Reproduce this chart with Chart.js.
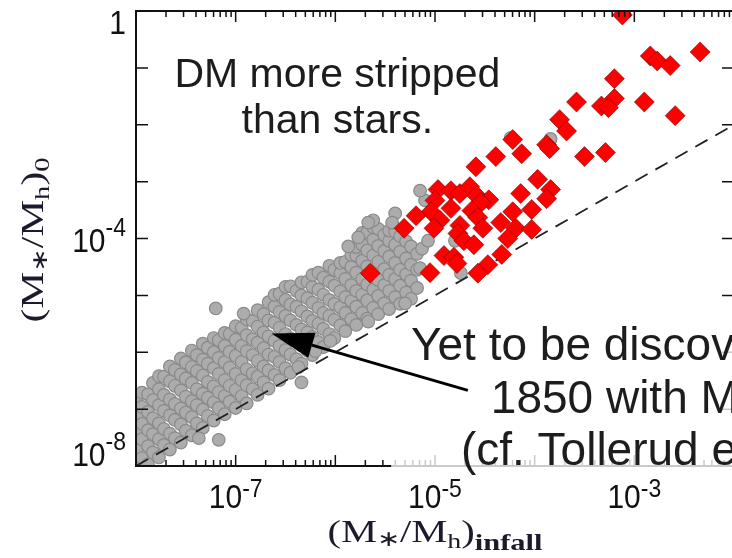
<!DOCTYPE html>
<html>
<head>
    <title>Stellar vs halo stripping</title>
    <script src="https://cdn.jsdelivr.net/npm/chart.js"></script>
    <style>
        html, body { margin: 0; padding: 0; background: #fff; overflow: hidden; }
        canvas { display: block; }
    </style>
</head>
<body>
    <canvas id="stripChart" width="745" height="558"></canvas>

    <script>
        // every value below is log10 of the mass ratio
        const xRange = [-8, -2];
        const yRange = [-8, 0];
        const xTickLabels = [-7, -5, -3];
        const yTickLabels = [0, -4, -8];
        const oneToOne = [-8, -2];

        // observed satellites (red diamonds): [x, y]
        const redLog = [
            [-3.12, -0.07], [-2.34, -0.72], [-2.84, -0.79], [-2.77, -0.88], [-2.64, -0.96],
            [-3.20, -1.19], [-3.58, -1.60], [-3.20, -1.54], [-3.33, -1.67], [-3.26, -1.70],
            [-2.90, -1.60], [-2.59, -1.84], [-3.75, -1.91], [-3.68, -2.11], [-4.22, -2.26],
            [-3.88, -2.35], [-3.85, -2.42], [-4.13, -2.51], [-4.39, -2.56], [-4.59, -2.74],
            [-3.50, -2.56], [-3.29, -2.49], [-3.97, -2.96], [-3.84, -3.14], [-3.88, -3.30],
            [-4.14, -3.21], [-4.97, -3.14], [-4.84, -3.16], [-4.75, -3.21], [-4.65, -3.09],
            [-4.58, -3.25], [-4.46, -3.32], [-5.00, -3.33], [-4.54, -3.37], [-5.04, -3.53],
            [-4.84, -3.47], [-4.63, -3.51], [-4.57, -3.63], [-4.22, -3.53], [-4.03, -3.49],
            [-5.19, -3.60], [-4.95, -3.68], [-5.01, -3.82], [-5.31, -3.82], [-4.75, -3.77],
            [-4.52, -3.82], [-4.34, -3.72], [-4.19, -3.82], [-4.03, -3.84], [-4.77, -3.91],
            [-4.71, -4.04], [-4.61, -4.11], [-4.27, -4.00], [-4.33, -4.28], [-4.91, -4.30],
            [-4.81, -4.33], [-4.78, -4.44], [-4.47, -4.46], [-5.05, -4.60], [-4.57, -4.61],
            [-5.65, -4.61]
        ];

        // yet-to-be-discovered satellites (grey circles): [x, y]
        const grayLog = [
            [-7.99, -8.03], [-7.99, -7.70], [-7.99, -7.43], [-7.99, -7.10], [-7.99, -6.80],
            [-7.94, -7.86], [-7.94, -7.53], [-7.94, -7.26], [-7.94, -6.96], [-7.94, -6.71],
            [-7.88, -7.97], [-7.88, -7.65], [-7.88, -7.37], [-7.88, -7.05], [-7.88, -6.74],
            [-7.83, -7.76], [-7.83, -7.44], [-7.83, -7.16], [-7.83, -6.84], [-7.83, -6.54],
            [-7.77, -7.85], [-7.77, -7.53], [-7.77, -7.25], [-7.77, -6.93], [-7.77, -6.65], [-7.77, -6.42],
            [-7.72, -7.63], [-7.72, -7.35], [-7.72, -7.03], [-7.72, -6.75], [-7.72, -6.43],
            [-7.66, -7.71], [-7.66, -7.43], [-7.66, -7.11], [-7.66, -6.83], [-7.66, -6.51], [-7.66, -6.25],
            [-7.61, -7.51], [-7.61, -7.19], [-7.61, -6.91], [-7.61, -6.59], [-7.61, -6.31],
            [-7.55, -7.59], [-7.55, -7.27], [-7.55, -6.99], [-7.55, -6.67], [-7.55, -6.39], [-7.55, -6.11],
            [-7.50, -7.38], [-7.50, -7.06], [-7.50, -6.78], [-7.50, -6.46], [-7.50, -6.18],
            [-7.44, -7.46], [-7.44, -7.14], [-7.44, -6.86], [-7.44, -6.54], [-7.44, -6.26], [-7.44, -5.97],
            [-7.39, -7.25], [-7.39, -6.93], [-7.39, -6.65], [-7.39, -6.33], [-7.39, -6.05],
            [-7.33, -7.33], [-7.33, -7.01], [-7.33, -6.73], [-7.33, -6.41], [-7.33, -6.13], [-7.33, -5.85],
            [-7.28, -7.12], [-7.28, -6.80], [-7.28, -6.52], [-7.28, -6.20], [-7.28, -5.92],
            [-7.22, -7.20], [-7.22, -6.88], [-7.22, -6.60], [-7.22, -6.28], [-7.22, -6.00], [-7.22, -5.75],
            [-7.17, -6.98], [-7.17, -6.70], [-7.17, -6.38], [-7.17, -6.10], [-7.17, -5.79],
            [-7.11, -7.09], [-7.11, -6.77], [-7.11, -6.49], [-7.11, -6.17], [-7.11, -5.89], [-7.11, -5.66],
            [-7.06, -6.87], [-7.06, -6.59], [-7.06, -6.27], [-7.06, -5.99], [-7.06, -5.68],
            [-7.00, -6.98], [-7.00, -6.66], [-7.00, -6.38], [-7.00, -6.06], [-7.00, -5.78], [-7.00, -5.54],
            [-6.94, -6.77], [-6.94, -6.49], [-6.94, -6.17], [-6.94, -5.89], [-6.94, -5.57],
            [-6.89, -6.90], [-6.89, -6.58], [-6.89, -6.30], [-6.89, -5.98], [-6.89, -5.70], [-6.89, -5.42],
            [-6.83, -6.65], [-6.83, -6.37], [-6.83, -6.05], [-6.83, -5.77], [-6.83, -5.45],
            [-6.78, -6.75], [-6.78, -6.43], [-6.78, -6.15], [-6.78, -5.83], [-6.78, -5.55], [-6.78, -5.26],
            [-6.72, -6.53], [-6.72, -6.25], [-6.72, -5.93], [-6.72, -5.65], [-6.72, -5.33],
            [-6.67, -6.64], [-6.67, -6.32], [-6.67, -6.04], [-6.67, -5.72], [-6.67, -5.44], [-6.67, -5.12],
            [-6.61, -6.40], [-6.61, -6.08], [-6.61, -5.80], [-6.61, -5.48], [-6.61, -5.20], [-6.61, -4.99],
            [-6.56, -6.49], [-6.56, -6.17], [-6.56, -5.89], [-6.56, -5.57], [-6.56, -5.29], [-6.56, -4.97],
            [-6.50, -6.28], [-6.50, -5.96], [-6.50, -5.68], [-6.50, -5.36], [-6.50, -5.08], [-6.50, -4.85],
            [-6.45, -6.36], [-6.45, -6.04], [-6.45, -5.76], [-6.45, -5.44], [-6.45, -5.16], [-6.45, -4.84],
            [-6.39, -6.12], [-6.39, -5.80], [-6.39, -5.52], [-6.39, -5.20], [-6.39, -4.92],
            [-6.34, -6.20], [-6.34, -5.88], [-6.34, -5.60], [-6.34, -5.28], [-6.34, -5.00], [-6.34, -4.77],
            [-6.28, -5.97], [-6.28, -5.65], [-6.28, -5.37], [-6.28, -5.05], [-6.28, -4.76],
            [-6.23, -6.05], [-6.23, -5.73], [-6.23, -5.45], [-6.23, -5.13], [-6.23, -4.85], [-6.23, -4.64],
            [-6.17, -5.82], [-6.17, -5.50], [-6.17, -5.22], [-6.17, -4.90], [-6.17, -4.60],
            [-6.12, -5.91], [-6.12, -5.59], [-6.12, -5.31], [-6.12, -4.99], [-6.12, -4.69],
            [-6.06, -5.68], [-6.06, -5.36], [-6.06, -5.08], [-6.06, -4.76], [-6.06, -4.48],
            [-6.01, -5.75], [-6.01, -5.43], [-6.01, -5.15], [-6.01, -4.83], [-6.01, -4.55],
            [-5.95, -5.53], [-5.95, -5.21], [-5.95, -4.93], [-5.95, -4.61], [-5.95, -4.43],
            [-5.90, -5.63], [-5.90, -5.31], [-5.90, -5.03], [-5.90, -4.71], [-5.90, -4.41],
            [-5.84, -5.42], [-5.84, -5.10], [-5.84, -4.82], [-5.84, -4.50], [-5.84, -4.29],
            [-5.79, -5.52], [-5.79, -5.20], [-5.79, -4.92], [-5.79, -4.60], [-5.79, -4.30], [-5.79, -4.15],
            [-5.73, -5.31], [-5.73, -4.99], [-5.73, -4.71], [-5.73, -4.39], [-5.73, -4.11], [-5.73, -3.90],
            [-5.68, -5.41], [-5.68, -5.09], [-5.68, -4.81], [-5.68, -4.49], [-5.68, -4.21], [-5.68, -3.89],
            [-5.62, -5.22], [-5.62, -4.90], [-5.62, -4.62], [-5.62, -4.30], [-5.62, -4.02], [-5.62, -3.80],
            [-5.57, -5.33], [-5.57, -5.01], [-5.57, -4.73], [-5.57, -4.41], [-5.57, -4.13], [-5.57, -3.83],
            [-5.51, -5.14], [-5.51, -4.82], [-5.51, -4.54], [-5.51, -4.22], [-5.51, -3.94],
            [-5.46, -5.24], [-5.46, -4.92], [-5.46, -4.64], [-5.46, -4.32], [-5.46, -4.04], [-5.46, -3.86],
            [-5.40, -5.03], [-5.40, -4.71], [-5.40, -4.43], [-5.40, -4.11], [-5.40, -3.88],
            [-5.35, -5.15], [-5.35, -4.83], [-5.35, -4.55], [-5.35, -4.23], [-5.35, -3.96],
            [-5.29, -4.95], [-5.29, -4.63], [-5.29, -4.35], [-5.29, -4.05],
            [-5.24, -5.06], [-5.24, -4.74], [-5.24, -4.46], [-5.24, -4.14],
            [-5.18, -4.87], [-5.18, -4.55], [-5.18, -4.27],
            [-5.13, -4.18], [-5.07, -4.04], [-5.10, -3.33], [-5.15, -3.16], [-5.40, -3.56],
            [-5.62, -3.68], [-5.43, -3.72], [-5.87, -4.14], [-5.77, -3.98], [-5.67, -3.72],
            [-4.80, -4.04], [-4.74, -4.61], [-3.84, -2.25], [-4.24, -2.23], [-5.15, -4.52],
            [-7.37, -7.51], [-7.17, -7.54], [-6.34, -6.53], [-7.20, -5.23], [-6.92, -5.32],
            [-6.37, -6.26], [-6.20, -5.98], [-6.05, -5.80], [-5.67, -5.46], [-5.30, -5.14]
        ];

        // annotation anchors, also in log10 data units
        const dmNote = { at: [-5.98, -1.33], lines: ['DM more stripped', 'than stars.'] };
        const yetNote = {
            lines: ['Yet to be discovered:', '1850 with M\u1D65 < 0', '(cf. Tollerud et al. 2008)'],
            at: [[-5.24, -6.14], [-4.44, -7.07], [-4.74, -7.98]]
        };
        const arrowTip = [-6.64, -5.67];
        const arrowTail = [-4.67, -6.67];
        const noteBox = [-5.44, -5.40];

        const toPoints = list => list.map(p => ({ x: 10 ** p[0], y: 10 ** p[1] }));

        const SANS = '"Liberation Sans", Arial, sans-serif';
        const SERIF = '"Liberation Serif", "Times New Roman", serif';

        function drawSci(ctx, exp, x, base, align, raise) {
            const main = exp === 0 ? '1' : '10';
            const sup = exp === 0 ? '' : '-' + (-exp);
            ctx.font = '30px ' + SANS;
            const w1 = ctx.measureText(main).width;
            ctx.font = '23px ' + SANS;
            const w2 = sup ? ctx.measureText(sup).width : 0;
            const x0 = align === 'right' ? x - w1 - w2 : x - (w1 + w2) / 2;
            ctx.save();
            ctx.translate(x0, base);
            ctx.scale(1, 1.1);
            ctx.font = '30px ' + SANS;
            ctx.fillText(main, 0, 0);
            if (sup) {
                ctx.font = '23px ' + SANS;
                ctx.fillText(sup, w1, -raise / 1.1);
            }
            ctx.restore();
        }

        // runs: [text, relative size, drop, bold]
        function drawRuns(ctx, runs, size, width) {
            const fontOf = r => (r[3] ? 'bold ' : '') + Math.round(size * r[1]) + 'px ' + SERIF;
            let total = 0;
            runs.forEach(r => { ctx.font = fontOf(r); total += ctx.measureText(r[0]).width; });
            ctx.save();
            ctx.scale(width / total, 1);
            let cx = -total / 2;
            runs.forEach(r => {
                ctx.font = fontOf(r);
                ctx.fillText(r[0], cx, r[2]);
                cx += ctx.measureText(r[0]).width;
            });
            ctx.restore();
        }

        const decor = {
            id: 'decor',
            afterDatasetsDraw(chart) {
                const { ctx, chartArea: a, scales: { x, y } } = chart;
                const px = v => x.getPixelForValue(10 ** v);
                const py = v => y.getPixelForValue(10 ** v);
                ctx.save();

                // frame and inward ticks on all four sides
                ctx.strokeStyle = '#111';
                ctx.lineWidth = 2;
                ctx.strokeRect(a.left, a.top, a.right - a.left, a.bottom - a.top);
                ctx.lineWidth = 1.5;
                ctx.beginPath();
                for (let d = xRange[0]; d < xRange[1]; d++) {
                    for (let m = 1; m < 10; m++) {
                        const xp = x.getPixelForValue(m * 10 ** d);
                        const len = m === 1 ? 11 : 6;
                        ctx.moveTo(xp, a.bottom); ctx.lineTo(xp, a.bottom - len);
                        ctx.moveTo(xp, a.top); ctx.lineTo(xp, a.top + len);
                    }
                }
                for (let d = yRange[0]; d <= yRange[1]; d++) {
                    const yp = py(d);
                    ctx.moveTo(a.left, yp); ctx.lineTo(a.left + 12, yp);
                    ctx.moveTo(a.right, yp); ctx.lineTo(a.right - 12, yp);
                }
                ctx.stroke();

                // half-transparent box behind the lower note
                const bx = px(noteBox[0]), by = py(noteBox[1]);
                ctx.fillStyle = 'rgba(255,255,255,0.78)';
                ctx.fillRect(bx, by, a.right + 20 - bx, py(-8.21) - by);

                // tick labels
                ctx.fillStyle = '#111';
                ctx.textAlign = 'left';
                ctx.textBaseline = 'alphabetic';
                yTickLabels.forEach(e => {
                    const base = Math.min(Math.max(py(e) + 13, a.top + 23), a.bottom);
                    drawSci(ctx, e, a.left - 10, base, 'right', 16);
                });
                xTickLabels.forEach(e => drawSci(ctx, e, px(e), a.bottom + 42, 'center', 11));

                // axis titles
                ctx.fillStyle = '#1b1b2b';
                ctx.save();
                ctx.translate(328 + 107, 542);
                drawRuns(ctx, [['(', 1, 0], ['M', 1, 0], ['\u2217', 0.7, 4], ['/', 1, 0], ['M', 1, 0],
                    ['h', 0.7, 6], [')', 1, 0], ['infall', 0.75, 8, true]], 32, 215);
                ctx.restore();
                ctx.save();
                ctx.translate(43, 240);
                ctx.rotate(-Math.PI / 2);
                drawRuns(ctx, [['(', 1, 0], ['M', 1, 0], ['\u2217', 0.7, 4], ['/', 1, 0], ['M', 1, 0],
                    ['h', 0.7, 6], [')', 1, 0], ['0', 0.7, 6]], 32, 165);
                ctx.restore();

                // notes
                ctx.fillStyle = '#1d1d1d';
                ctx.font = '41px ' + SANS;
                ctx.textAlign = 'center';
                dmNote.lines.forEach((t, i) => ctx.fillText(t, px(dmNote.at[0]), py(dmNote.at[1]) + i * 46));
                ctx.textAlign = 'left';
                ctx.font = '46px ' + SANS;
                yetNote.lines.forEach((t, i) => ctx.fillText(t, px(yetNote.at[i][0]), py(yetNote.at[i][1])));

                // arrow
                const tx = px(arrowTip[0]), ty = py(arrowTip[1]);
                const sx = px(arrowTail[0]), sy = py(arrowTail[1]);
                const ang = Math.atan2(ty - sy, tx - sx);
                const hx = tx - 42 * Math.cos(ang), hy = ty - 42 * Math.sin(ang);
                ctx.strokeStyle = '#000';
                ctx.lineWidth = 3;
                ctx.beginPath();
                ctx.moveTo(sx, sy); ctx.lineTo(hx, hy);
                ctx.stroke();
                ctx.fillStyle = '#000';
                ctx.beginPath();
                ctx.moveTo(tx, ty);
                ctx.lineTo(hx + 13 * Math.sin(ang), hy - 13 * Math.cos(ang));
                ctx.lineTo(hx - 13 * Math.sin(ang), hy + 13 * Math.cos(ang));
                ctx.closePath();
                ctx.fill();

                ctx.restore();
            }
        };

        new Chart(document.getElementById('stripChart'), {
            type: 'scatter',
            data: {
                datasets: [{
                    label: 'known satellites',
                    data: toPoints(redLog),
                    pointStyle: 'rectRot',
                    pointRadius: 10,
                    backgroundColor: '#ff0000',
                    borderColor: 'rgba(110,0,0,0.55)',
                    borderWidth: 1,
                    order: 0,
                    clip: 0
                }, {
                    label: 'equal stripping',
                    data: toPoints(oneToOne.map(v => [v, v])),
                    showLine: true,
                    borderColor: '#222',
                    borderWidth: 1.8,
                    borderDash: [14, 9],
                    pointRadius: 0,
                    order: 1,
                    clip: 0
                }, {
                    label: 'predicted satellites',
                    data: toPoints(grayLog),
                    pointRadius: 6.3,
                    backgroundColor: '#acacac',
                    borderColor: '#8a8a8a',
                    borderWidth: 1.2,
                    order: 2,
                    clip: 0
                }]
            },
            options: {
                responsive: false,
                animation: false,
                devicePixelRatio: 1,
                layout: { padding: { left: 136, right: 8, top: 10, bottom: 92 } },
                scales: {
                    x: { type: 'logarithmic', min: 10 ** xRange[0], max: 10 ** xRange[1], display: false },
                    y: { type: 'logarithmic', min: 10 ** yRange[0], max: 10 ** yRange[1], display: false }
                },
                plugins: {
                    legend: { display: false },
                    tooltip: { enabled: false }
                }
            },
            plugins: [decor]
        });
    </script>
</body>
</html>
